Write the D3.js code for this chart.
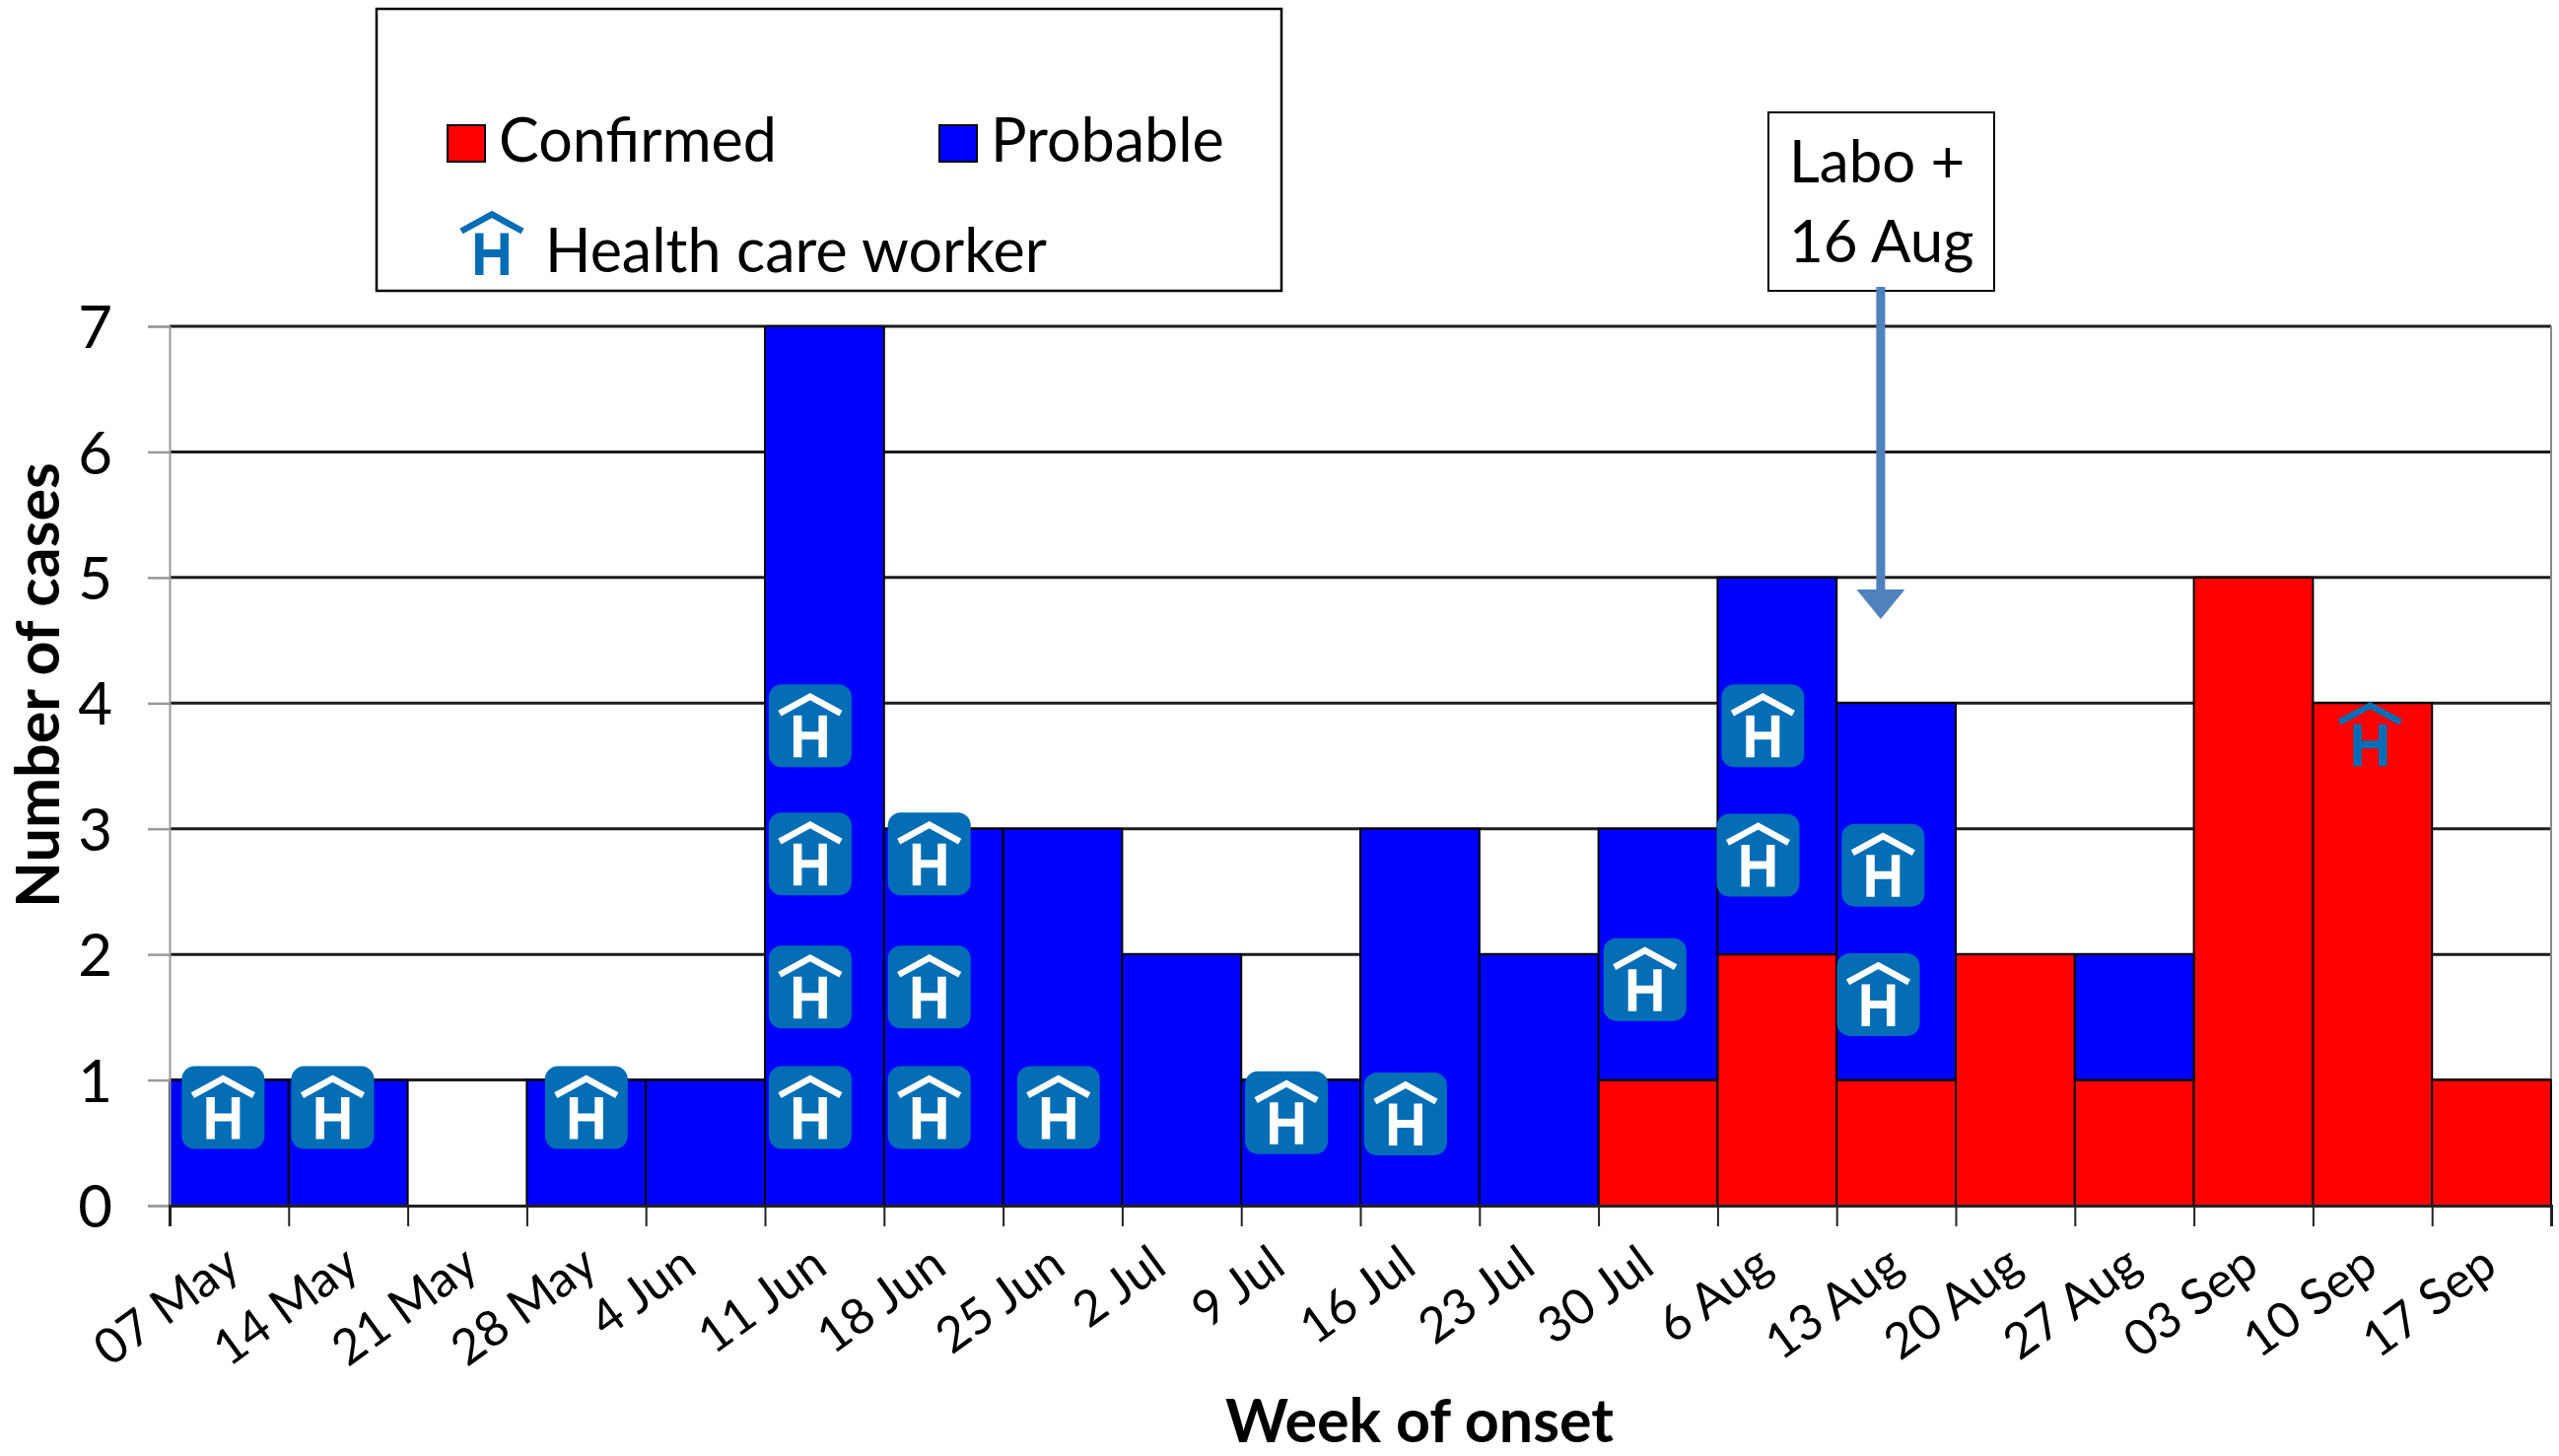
<!DOCTYPE html>
<html>
<head>
<meta charset="utf-8">
<script src="https://cdn.jsdelivr.net/npm/d3@7"></script>
<style>
  body { margin: 0; background: #fff; }
  text { font-family: Lato, "Open Sans", sans-serif; fill: #000; }
</style>
</head>
<body>
<svg id="chart" width="2596" height="1477"></svg>
<script>
const weeks = ["07 May", "14 May", "21 May", "28 May", "4 Jun", "11 Jun", "18 Jun", "25 Jun", "2 Jul", "9 Jul",
    "16 Jul", "23 Jul", "30 Jul", "6 Aug", "13 Aug", "20 Aug", "27 Aug", "03 Sep", "10 Sep", "17 Sep"];
const confirmed = [0, 0, 0, 0, 0, 0, 0, 0, 0, 0, 0, 0, 1, 2, 1, 2, 1, 5, 4, 1];
const probable = [1, 1, 0, 1, 1, 7, 3, 3, 2, 1, 3, 2, 2, 3, 3, 0, 1, 0, 0, 0];

// health care worker badges: where each sits, in week units and case units
const hcwWeek = [0.45, 1.37, 3.5, 5.38, 6.38, 7.465, 9.38, 10.38, 5.38, 6.38, 5.38, 6.38, 5.38, 12.39, 13.34, 13.38, 14.39, 14.35];
const hcwCases = [0.78, 0.78, 0.78, 0.78, 0.78, 0.78, 0.74, 0.73, 1.74, 1.74, 2.8, 2.8, 3.82, 1.8, 2.79, 3.82, 2.71, 1.68];
const hcwPlainWeek = [18.48];
const hcwPlainCases = [3.75];

const labWeek = 14.37;

const svg = d3.select("#chart");
const x = d3.scaleLinear().domain([0, weeks.length]).range([172, 2588]);
const y = d3.scaleLinear().domain([0, 7]).range([1223, 331]);

const red = "#ff0000", blue = "#0000ff", badge = "#036db5", arrowBlue = "#4f81bd";

// gridlines
svg.append("g").selectAll("line")
    .data(d3.range(1, 8))
    .join("line")
    .attr("x1", x(0)).attr("x2", x(weeks.length))
    .attr("y1", d => y(d)).attr("y2", d => y(d))
    .attr("stroke", "#1c1c1c").attr("stroke-width", 3);

svg.append("line")
    .attr("x1", x(weeks.length)).attr("x2", x(weeks.length))
    .attr("y1", y(7)).attr("y2", y(0))
    .attr("stroke", "#888").attr("stroke-width", 2);

// bars
const table = weeks.map((w, i) => ({ i: i, confirmed: confirmed[i], probable: probable[i] }));
const stacked = d3.stack().keys(["confirmed", "probable"])(table);
const colors = { confirmed: red, probable: blue };

svg.append("g").selectAll("g")
    .data(stacked)
    .join("g")
    .attr("fill", d => colors[d.key])
    .selectAll("rect")
    .data(d => d.filter(p => p[1] > p[0]))
    .join("rect")
    .attr("x", d => x(d.data.i))
    .attr("width", d => x(d.data.i + 1) - x(d.data.i))
    .attr("y", d => y(d[1]))
    .attr("height", d => y(d[0]) - y(d[1]))
    .attr("stroke", "#000")
    .attr("stroke-width", 2);

// axes
const yAxis = d3.axisLeft(y).tickValues(d3.range(0, 8)).tickFormat(d3.format("d")).tickSize(22).tickPadding(36);
const yG = svg.append("g").attr("transform", `translate(${x(0)},0)`).call(yAxis);
yG.select(".domain").attr("stroke", "#999").attr("stroke-width", 2);
yG.selectAll(".tick line").attr("stroke", "#999").attr("stroke-width", 2.5);
yG.selectAll("text").attr("font-size", 60).attr("font-family", "Lato").attr("dy", "0.36em");

const xAxis = d3.axisBottom(x).tickValues(d3.range(0, weeks.length + 1))
    .tickSize(21).tickFormat(i => weeks[i] || "");
const xG = svg.append("g").attr("transform", `translate(0,${y(0)})`).call(xAxis);
xG.select(".domain").attr("stroke", "#222").attr("stroke-width", 3);
xG.selectAll(".tick line").attr("stroke", "#222").attr("stroke-width", 2);

const angle = 36, labelTop = 1260;
xG.selectAll(".tick text")
    .attr("font-size", 50)
    .attr("font-family", "Lato")
    .attr("text-anchor", "middle")
    .attr("dy", "0.35em")
    .attr("y", 0)
    .attr("transform", function() {
        const len = this.getComputedTextLength();
        const rad = angle * Math.PI / 180;
        const cy = labelTop - y(0) + (len * Math.sin(rad) + 38 * Math.cos(rad)) / 2;
        return `translate(-4,${cy}) rotate(${-angle})`;
    });

svg.append("text")
    .attr("transform", `translate(60,695) rotate(-90)`)
    .attr("text-anchor", "middle")
    .attr("font-size", 61).attr("font-weight", 700)
    .text("Number of cases");

svg.append("text")
    .attr("x", 1440).attr("y", 1463)
    .attr("text-anchor", "middle")
    .attr("font-size", 61).attr("font-weight", 700)
    .text("Week of onset");

// house glyph shared by the badges and the legend
function house(g, color) {
    g.append("path")
        .attr("d", "M-31,-12.5L0,-29.5L31,-12.5")
        .attr("fill", "none").attr("stroke", color).attr("stroke-width", 6.5);
    g.append("path")
        .attr("d", "M-17,-10.5h8.5v16.5h17v-16.5h8.5v42.5h-8.5v-18h-17v18h-8.5z")
        .attr("fill", color);
}

hcwWeek.forEach((w, i) => {
    const g = svg.append("g").attr("transform", `translate(${x(w)},${y(hcwCases[i])})`);
    g.append("rect")
        .attr("x", -42).attr("y", -42).attr("width", 84).attr("height", 84)
        .attr("rx", 13).attr("fill", badge);
    house(g, "#fff");
});

hcwPlainWeek.forEach((w, i) => {
    house(svg.append("g").attr("transform", `translate(${x(w)},${y(hcwPlainCases[i])})`), badge);
});

// legend
svg.append("rect")
    .attr("x", 382).attr("y", 9).attr("width", 918).attr("height", 286)
    .attr("fill", "#fff").attr("stroke", "#000").attr("stroke-width", 2.5);

[["Confirmed", red, 454], ["Probable", blue, 953]].forEach(([name, color, left]) => {
    svg.append("rect")
        .attr("x", left).attr("y", 127).attr("width", 38).attr("height", 37)
        .attr("fill", color).attr("stroke", "#000").attr("stroke-width", 2);
    svg.append("text")
        .attr("x", left + 52).attr("y", 164)
        .attr("font-size", 61)
        .text(name);
});

house(svg.append("g").attr("transform", "translate(499,247)"), badge);
svg.append("text")
    .attr("x", 553).attr("y", 276)
    .attr("font-size", 61)
    .text("Health care worker");

// lab confirmation note
svg.append("rect")
    .attr("x", 1794).attr("y", 114).attr("width", 229).attr("height", 181)
    .attr("fill", "#fff").attr("stroke", "#000").attr("stroke-width", 2);
svg.append("text").attr("x", 1815).attr("y", 185).attr("font-size", 60).text("Labo +");
svg.append("text").attr("x", 1815).attr("y", 266).attr("font-size", 60).text("16 Aug");

svg.append("line")
    .attr("x1", x(labWeek)).attr("x2", x(labWeek))
    .attr("y1", 291).attr("y2", 600)
    .attr("stroke", arrowBlue).attr("stroke-width", 9);
svg.append("path")
    .attr("d", `M${x(labWeek) - 24.5},598H${x(labWeek) + 24.5}L${x(labWeek)},628Z`)
    .attr("fill", arrowBlue);
</script>
</body>
</html>
